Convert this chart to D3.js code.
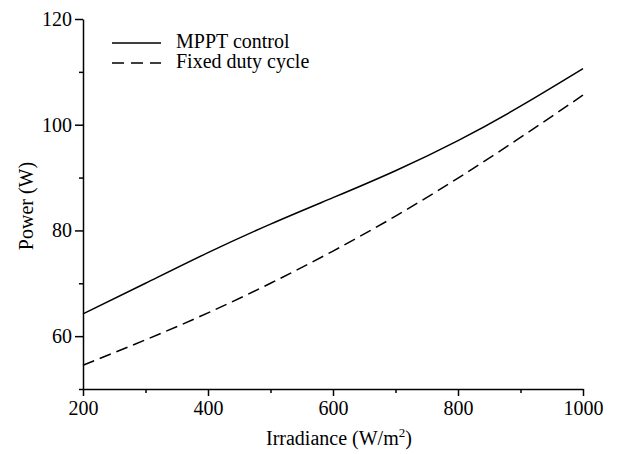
<!DOCTYPE html>
<html>
<head>
<meta charset="utf-8">
<script src="https://cdn.jsdelivr.net/npm/d3@7"></script>
<style>
  body { margin: 0; background: #fff; }
  svg text { font-family: "Liberation Serif", "Times New Roman", serif; fill: #000; }
</style>
</head>
<body>
<div id="chart"></div>
<script>
// irradiance (W/m2) and output power (W)
var irradiance = [200, 300, 400, 500, 600, 700, 800, 900, 1000];
var mpptPower  = [64.2, 70.0, 75.8, 81.2, 86.2, 91.3, 97.0, 103.5, 110.6];
var fixedPower = [54.5, 59.3, 64.4, 70.0, 76.1, 82.7, 89.9, 97.6, 105.6];

var xMajor = [200, 400, 600, 800, 1000];
var xMinor = [300, 500, 700, 900];
var yMajor = [60, 80, 100, 120];
var yMinor = [50, 70, 90, 110];

var seriesNames = ["MPPT control", "Fixed duty cycle"];

window.onload = function() {
    const width = 620;
    const height = 454;
    const serif = '"Liberation Serif", "Times New Roman", serif';

    const xScale = d3.scaleLinear().domain([200, 1000]).range([83, 583]);
    const yScale = d3.scaleLinear().domain([50, 120]).range([389, 19]);

    let svg = d3.select('#chart')
        .append('svg')
            .attr('width', width)
            .attr('height', height);

    // axes: major ticks with labels, minor ticks without
    svg.append('g')
        .attr('transform', `translate(${xScale(200)}, 0)`)
        .call(d3.axisLeft(yScale).tickValues(yMajor).tickSize(8).tickPadding(3).tickSizeOuter(0));
    svg.append('g')
        .attr('transform', `translate(${xScale(200)}, 0)`)
        .call(d3.axisLeft(yScale).tickValues(yMinor).tickSize(4).tickFormat('').tickSizeOuter(0))
        .select('.domain').remove();

    svg.append('g')
        .attr('transform', `translate(0, ${yScale(50)})`)
        .call(d3.axisBottom(xScale).tickValues(xMajor).tickFormat(d3.format('d'))
            .tickSize(7).tickPadding(5).tickSizeOuter(0));
    svg.append('g')
        .attr('transform', `translate(0, ${yScale(50)})`)
        .call(d3.axisBottom(xScale).tickValues(xMinor).tickSize(4).tickFormat('').tickSizeOuter(0))
        .select('.domain').remove();

    svg.selectAll('g')
        .attr('font-family', serif)
        .attr('font-size', 20);
    svg.selectAll('.domain, .tick line')
        .attr('stroke', '#000')
        .attr('stroke-width', 1.5);
    svg.selectAll('.tick text')
        .attr('fill', '#000');

    // axis titles
    svg.append('text')
        .attr('transform', 'translate(33, 206) rotate(-90)')
        .attr('text-anchor', 'middle')
        .style('font-size', '20px')
        .text('Power (W)');

    let xt = svg.append('text')
        .attr('x', 266)
        .attr('y', 445)
        .style('font-size', '20px');
    xt.append('tspan').text('Irradiance (W/m');
    xt.append('tspan').attr('dy', -8).style('font-size', '13px').text('2');
    xt.append('tspan').attr('dy', 8).text(')');

    // lines
    let line = d3.line()
        .x((d, i) => xScale(irradiance[i]))
        .y((d) => yScale(d))
        .curve(d3.curveNatural);

    let dashes = [null, '12,6'];
    [mpptPower, fixedPower].forEach(function(series, k) {
        svg.append('path')
            .datum(series)
            .attr('d', line)
            .attr('fill', 'none')
            .attr('stroke', '#000')
            .attr('stroke-width', 1.5)
            .attr('stroke-dasharray', dashes[k]);
    });

    // legend
    let legend = svg.append('g');
    seriesNames.forEach(function(name, k) {
        let ly = 43 + k * 20;
        legend.append('line')
            .attr('x1', 112).attr('x2', 161)
            .attr('y1', ly).attr('y2', ly)
            .attr('stroke', '#000')
            .attr('stroke-width', 1.5)
            .attr('stroke-dasharray', k ? '12,7' : null);
        legend.append('text')
            .attr('x', 176)
            .attr('y', ly + 5)
            .style('font-size', '20px')
            .text(name);
    });
};
</script>
</body>
</html>
